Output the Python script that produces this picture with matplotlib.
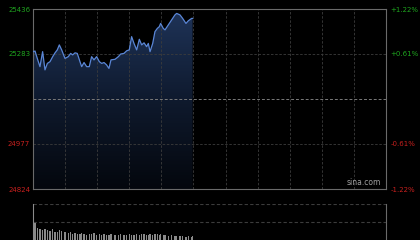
import numpy as np
import matplotlib
matplotlib.use("Agg")
import matplotlib.pyplot as plt
from matplotlib.colors import LinearSegmentedColormap

# ---- data ----
minutes = [0, 1.9, 4, 6.5, 9, 11.2, 13.4, 15.9, 18.4, 20.6, 22.7, 24.6, 26.8, 29.9,
           33, 35.2, 37.1, 39.3, 41.4, 43.9, 45.5, 47.7, 50.2, 52.6, 54.8, 57, 59.5,
           62, 64.2, 66.4, 68.8, 71, 72.9, 76.7, 79.8, 82, 85, 87.6, 90, 92.2, 94.4,
           96.9, 99.4, 101.6, 103.8, 106.2, 107.8, 109.4, 111.9, 114, 116.2, 118.1,
           119.3, 121.8, 123.4, 126.5, 129.6, 132.7, 134.3, 137.4, 139.9, 143, 145.2,
           148.3, 149.2]
prices = [25291, 25293, 25268, 25240, 25291, 25229, 25251, 25257, 25274, 25287, 25297,
          25314, 25297, 25268, 25274, 25285, 25280, 25287, 25285, 25257, 25240, 25254,
          25240, 25240, 25274, 25263, 25274, 25257, 25251, 25254, 25246, 25234, 25263,
          25265, 25274, 25283, 25285, 25294, 25297, 25342, 25319, 25297, 25333, 25314,
          25321, 25308, 25319, 25291, 25319, 25359, 25370, 25376, 25387, 25370, 25365,
          25382, 25399, 25416, 25421, 25416, 25404, 25387, 25396, 25404, 25404]
volumes = [36, 17, 12, 11, 10, 11, 10, 9, 11, 8, 8, 10, 9, 8, 7, 8, 6, 7, 6, 6, 7, 6,
           5, 6, 6, 7, 5, 6, 5, 6, 5, 5, 6, 5, 5, 6, 5, 5, 6, 5, 5, 6, 5, 6, 6, 5, 5, 6,
           5, 6, 6, 5, 6, 5, 5, 4, 5, 4, 4, 4, 4, 3, 4, 3, 4]
prev_close = 25130
left_ticks = [25436, 25283, 24977, 24824]
right_labels = ["+1.22%", "+0.61%", "-0.61%", "-1.22%"]
total_minutes = 330

t = np.array(minutes)
p = np.array(prices)
v = np.array(volumes)

BG = "#000000"
GRID = "#3c3c3c"
BORDER = "#6a6a6a"
GREEN = "#1fa51f"
RED = "#c8201e"
LINE = "#5a86d6"

fig = plt.figure(figsize=(4.2, 2.4), dpi=100, facecolor=BG)
W, H = 420, 240
ax = fig.add_axes([33 / W, 1 - 189 / H, (386 - 33) / W, (189 - 9) / H], facecolor=BG)
vax = fig.add_axes([33 / W, 0.0, (386 - 33) / W, (239.5 - 203) / H], facecolor=BG)

ymin, ymax = 24824, 25436
ax.set_xlim(0, total_minutes)
ax.set_ylim(ymin, ymax)

# gradient fill under line
cmap = LinearSegmentedColormap.from_list("g", ["#04070d", "#0f1a2e", "#1f3459"])
grad = np.linspace(0, 1, 256).reshape(-1, 1)
im = ax.imshow(grad, cmap=cmap, aspect="auto", origin="lower",
               extent=[0, total_minutes, ymin, ymax], zorder=1)
poly = ax.fill_between(t, p, ymin, color="none", zorder=1)
im.set_clip_path(poly.get_paths()[0], transform=ax.transData)
ax.plot(t, p, color=LINE, lw=0.9, zorder=3)

# grids
for xv in np.arange(30, total_minutes, 30):
    ax.axvline(xv, color=GRID, lw=0.6, ls=(0, (3, 2)), zorder=2)
for yv in [25283, 24977]:
    ax.axhline(yv, color=GRID, lw=0.6, ls=(0, (3, 2)), zorder=2)
ax.axhline(prev_close, color="#7a7a7a", lw=0.7, ls=(0, (3, 2)), zorder=2)

for s in ax.spines.values():
    s.set_color(BORDER)
    s.set_linewidth(0.8)
ax.set_xticks([])
ax.set_yticks(left_ticks)
ax.set_yticklabels([str(x) for x in left_ticks], fontsize=5)
for lbl, val in zip(ax.get_yticklabels(), left_ticks):
    lbl.set_color(GREEN if val > prev_close else RED)
ax.tick_params(axis="y", length=0, pad=2)

ax2 = ax.twinx()
ax2.set_ylim(ymin, ymax)
ax2.set_yticks(left_ticks)
ax2.set_yticklabels(right_labels, fontsize=5)
for lbl, val in zip(ax2.get_yticklabels(), left_ticks):
    lbl.set_color(GREEN if val > prev_close else RED)
ax2.tick_params(axis="y", length=0, pad=3)
for s in ax2.spines.values():
    s.set_visible(False)

ax.text(0.985, 0.012, "sina.com", transform=ax.transAxes, ha="right", va="bottom",
        color="#a0a0a0", fontsize=5.5, zorder=4)

# volume panel
vax.set_xlim(0, total_minutes)
vax.set_ylim(0, 36)
vax.bar(t, v, width=1.2, color="#8a8a8a", align="center", zorder=3)
vax.axhline(36, color=GRID, lw=0.8, ls=(0, (3, 2)))
vax.axhline(18, color=GRID, lw=0.8, ls=(0, (3, 2)))
for k in ["top", "bottom"]:
    vax.spines[k].set_visible(False)
for k in ["left", "right"]:
    vax.spines[k].set_color(BORDER)
    vax.spines[k].set_linewidth(0.8)
vax.set_xticks([])
vax.set_yticks([])

fig.savefig("out.png", dpi=100, facecolor=BG)
